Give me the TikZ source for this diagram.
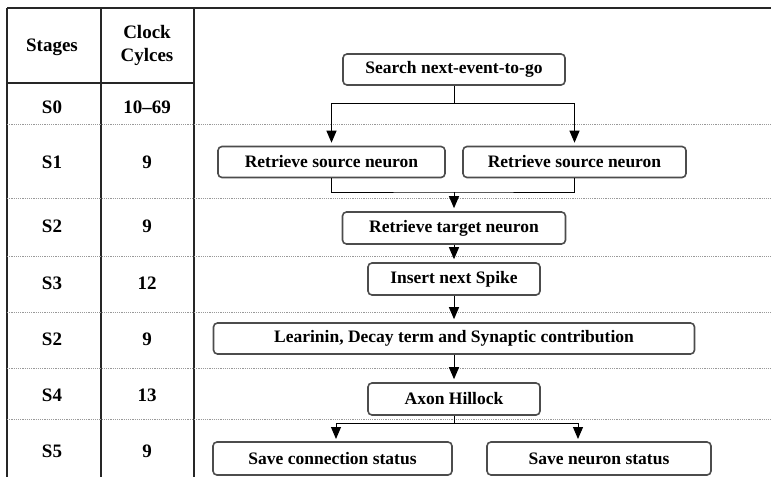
\documentclass[tikz,border=0pt]{standalone}
\usepackage{fontspec}
\setmainfont{Liberation Serif}
\usetikzlibrary{positioning, arrows.meta}

\begin{document}
\begin{tikzpicture}[x=1pt,y=-1pt,font=\fontsize{17.5}{20}\selectfont\bfseries,
    stepnode/.style={draw=black!70, line width=1.6pt, rounded corners=4pt, fill=white,
      inner sep=0pt, minimum height=31pt},
    flow/.style={-{Triangle[width=10pt,length=12pt]}, line width=1pt, shorten >=3pt},
    link/.style={line width=1pt},
    rule/.style={line width=1.5pt, black!85},
    rowline/.style={draw=black!40, line width=1pt, dash pattern=on 1.2pt off 1pt},
    cell/.style={font=\fontsize{19}{23}\selectfont\bfseries}]
    \useasboundingbox (0,0) rectangle (771,477);

    % table
    \draw[rule] (7,8) -- (771,8);
    \draw[rule] (7,83) -- (194,83);
    \foreach \x in {7,101,194}
      \draw[rule] (\x,8) -- (\x,477);
    \foreach \y in {124,198,256,312,368,419}
      \draw[rowline] (7,\y) -- (771,\y);

    \node[cell] (hstage) at (52,47) {Stages};
    \node[cell, align=center] (hcycles) at (147,45) {Clock\\Cylces};
    \foreach \s/\c/\y [count=\i] in {S0/10--69/107, S1/9/162, S2/9/226, S3/12/283,
        S2/9/339, S4/13/395, S5/9/451} {
      \node[cell] (stage\i) at (52,\y) {\s};
      \node[cell] (cycles\i) at (147,\y) {\c};
    }

    % flow
    \node[stepnode, minimum width=222pt] (search) at (454,69.5) {Search next-event-to-go};
    \node[stepnode, minimum width=227pt] (srcL) at (331.5,162) {Retrieve source neuron};
    \node[stepnode, minimum width=223pt] (srcR) at (574.5,162) {Retrieve source neuron};
    \node[stepnode, minimum width=223pt, minimum height=32pt] (target) at (454,228) {Retrieve target neuron};
    \node[stepnode, minimum width=172pt, minimum height=32pt] (spike) at (454,279) {Insert next Spike};
    \node[stepnode, minimum width=481pt] (learn) at (454,338.5) {Learinin, Decay term and Synaptic contribution};
    \node[stepnode, minimum width=172pt, minimum height=32pt] (axon) at (454,399) {Axon Hillock};
    \node[stepnode, minimum width=239pt, minimum height=33pt] (saveC) at (332.5,458.5) {Save connection status};
    \node[stepnode, minimum width=224pt, minimum height=33pt] (saveN) at (599,458.5) {Save neuron status};

    \coordinate (fork) at (454,103);
    \draw[link] (search.south) -- (fork);
    \draw[flow] (fork) -| (srcL.north);
    \draw[flow] (fork) -| (srcR.north);

    \coordinate (merge) at (454,192);
    \draw[link] (srcL.south) |- (merge) -| (srcR.south);
    \draw[flow] (merge) -- (target.north);

    \draw[flow] (target.south) -- (spike.north);
    \draw[flow] (spike.south) -- (learn.north);
    \draw[flow] (learn.south) -- (axon.north);

    \coordinate (split) at (454,423);
    \coordinate (dropC) at (336,442);
    \coordinate (dropN) at (578,442);
    \draw[link] (axon.south) -- (split);
    \draw[flow] (split) -| (dropC);
    \draw[flow] (split) -| (dropN);
  \end{tikzpicture}
\end{document}
